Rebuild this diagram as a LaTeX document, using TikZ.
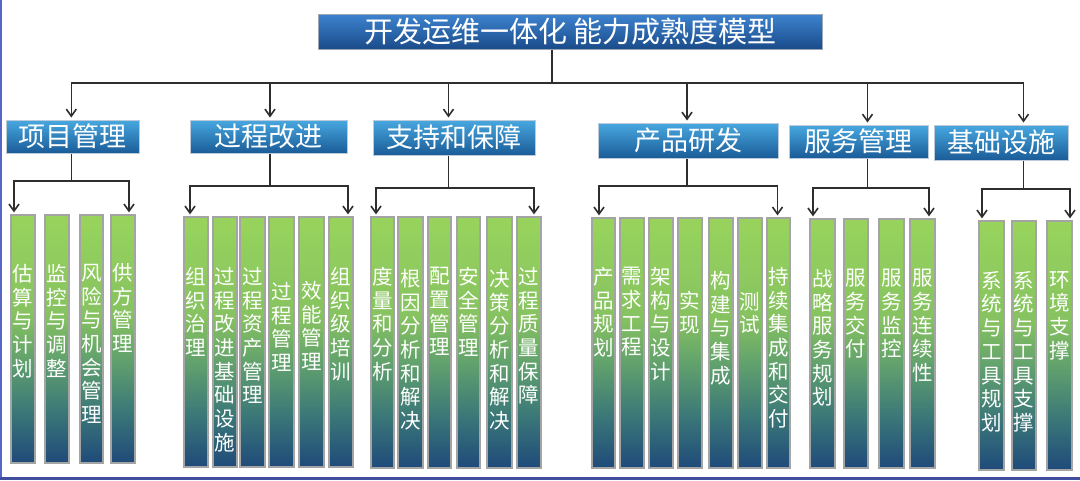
\documentclass[tikz,border=0pt]{standalone}
\usepackage{fontspec}
\newfontfamily\cjk{Noto Sans CJK SC}
\usetikzlibrary{arrows.meta}
\definecolor{edgeL}{HTML}{5566C8}
\definecolor{edgeB}{HTML}{414D9E}
\definecolor{connC}{HTML}{2E2E2E}
\definecolor{bar0}{HTML}{1F4A7A}
\definecolor{bar1}{HTML}{3A7678}
\definecolor{bar2}{HTML}{5E9E6E}
\definecolor{bar3}{HTML}{86C260}
\definecolor{bar4}{HTML}{98D45C}
\definecolor{barB}{HTML}{A4A4A4}
\definecolor{catT}{HTML}{48A8E0}
\definecolor{catM}{HTML}{2B88CA}
\definecolor{catB}{HTML}{1A5C98}
\definecolor{catD}{HTML}{BCCADA}
\definecolor{titT}{HTML}{3C82CE}
\definecolor{titM}{HTML}{2566B0}
\definecolor{titB}{HTML}{1A4B8A}
\definecolor{titD}{HTML}{9AA8B8}
\pgfdeclareverticalshading{barshade}{100bp}{color(0bp)=(bar0); color(25bp)=(bar0); color(35bp)=(bar1); color(45bp)=(bar2); color(55bp)=(bar3); color(75bp)=(bar4); color(100bp)=(bar4)}
\tikzset{
  conn/.style={draw=connC, line width=1.6pt},
  arr/.style={conn, -{Straight Barb[length=7pt,width=10pt]}, shorten >=2pt},
  titlestyle/.style={draw=titD, line width=1pt, top color=titT, middle color=titM, bottom color=titB, inner sep=0pt, text=white, font=\cjk\fontsize{29}{34}\selectfont},
  catstyle/.style={draw=catD, line width=1pt, top color=catT, middle color=catM, bottom color=catB, inner sep=0pt, text=white, font=\cjk\fontsize{27}{32}\selectfont},
  barstyle/.style={draw=barB, line width=1.2pt, shade, shading=barshade, inner sep=0pt},
  bartext/.style={anchor=north, inner sep=0pt, align=center, text=white, font=\cjk\fontsize{20.5}{23.7}\selectfont}
}
% name, x1, x2, y1, y2, text
\newcommand\mkcat[6]{\node[catstyle, minimum width={(#3-#2)*1pt}, minimum height={(#5-#4)*1pt}] (#1) at ({(#2+#3)/2},{(#4+#5)/2}) {#6};}
% name, x1, x2, top, bottom, text top, text
\newcommand\mkbar[7]{%
  \node[barstyle, minimum width={(#3-#2)*1pt}, minimum height={(#5-#4)*1pt}] (#1) at ({(#2+#3)/2},{(#4+#5)/2}) {};
  \node[bartext] (#1t) at ({(#2+#3)/2},{#6-1}) {#7};}
\begin{document}
\begin{tikzpicture}[x=1pt,y=-1pt]
\useasboundingbox (0,0) rectangle (1080,480);
\fill[white] (0,0) rectangle (1080,480);
\fill[edgeL] (0,0) rectangle (1.6,480);
\fill[edgeB] (0,476.5) rectangle (1080,480);

% title
\node[titlestyle, minimum width=503.5pt, minimum height=34.5pt] (title) at (570.25,31.75) {开发运维一体化 能力成熟度模型};

% categories
\mkcat{c1}{6}{139.5}{120}{153}{项目管理}
\mkcat{c2}{190}{347}{120}{153}{过程改进}
\mkcat{c3}{373}{535}{120}{155}{支持和保障}
\mkcat{c4}{598.5}{778.5}{123}{158}{产品研发}
\mkcat{c5}{789}{928}{125}{158}{服务管理}
\mkcat{c6}{934}{1068.5}{125}{160}{基础设施}

% bars group 1
\mkbar{b11}{11}{35}{215}{463}{265}{估\\算\\与\\计\\划}
\mkbar{b12}{45}{69}{215}{463}{265}{监\\控\\与\\调\\整}
\mkbar{b13}{80}{103}{215}{463}{265}{风\\险\\与\\机\\会\\管\\理}
\mkbar{b14}{111}{135}{215}{463}{264}{供\\方\\管\\理}
% group 2
\mkbar{b21}{184}{208}{217}{467}{268}{组\\织\\治\\理}
\mkbar{b22}{213}{237}{217}{467}{268}{过\\程\\改\\进\\基\\础\\设\\施}
\mkbar{b23}{240}{265}{217}{467}{268}{过\\程\\资\\产\\管\\理}
\mkbar{b24}{269}{294}{217}{467}{283}{过\\程\\管\\理}
\mkbar{b25}{299}{324}{217}{467}{282}{效\\能\\管\\理}
\mkbar{b26}{329}{353}{217}{467}{268}{组\\织\\级\\培\\训}
% group 3
\mkbar{b31}{371}{394}{217}{468}{268}{度\\量\\和\\分\\析}
\mkbar{b32}{398}{423}{217}{468}{270}{根\\因\\分\\析\\和\\解\\决}
\mkbar{b33}{428}{451}{217}{468}{268}{配\\置\\管\\理}
\mkbar{b34}{457}{480}{217}{468}{268}{安\\全\\管\\理}
\mkbar{b35}{487}{512}{217}{468}{270}{决\\策\\分\\析\\和\\解\\决}
\mkbar{b36}{517}{541}{217}{468}{268}{过\\程\\质\\量\\保\\障}
% group 4
\mkbar{b41}{592}{615}{218}{468}{268}{产\\品\\规\\划}
\mkbar{b42}{620}{644}{218}{468}{268}{需\\求\\工\\程}
\mkbar{b43}{649}{673}{218}{468}{268}{架\\构\\与\\设\\计}
\mkbar{b44}{678}{702}{218}{468}{292}{实\\现}
\mkbar{b45}{709}{733}{218}{468}{272}{构\\建\\与\\集\\成}
\mkbar{b46}{738}{762}{218}{468}{293}{测\\试}
\mkbar{b47}{767}{790}{218}{468}{268}{持\\续\\集\\成\\和\\交\\付}
% group 5
\mkbar{b51}{810}{835}{219}{468}{270}{战\\略\\服\\务\\规\\划}
\mkbar{b52}{844}{868}{219}{468}{270}{服\\务\\交\\付}
\mkbar{b53}{879}{904}{219}{468}{270}{服\\务\\监\\控}
\mkbar{b54}{910}{935}{219}{468}{270}{服\\务\\连\\续\\性}
% group 6
\mkbar{b61}{979}{1004}{221}{470}{272}{系\\统\\与\\工\\具\\规\\划}
\mkbar{b62}{1012}{1036}{221}{470}{272}{系\\统\\与\\工\\具\\支\\撑}
\mkbar{b63}{1047}{1072}{221}{470}{272}{环\\境\\支\\撑}

% main bus
\coordinate (bus) at (552,83);
\coordinate (a1) at (71.3,83);
\coordinate (a2) at (270,83);
\coordinate (a3) at (448.5,83);
\coordinate (a4) at (687,83);
\coordinate (a5) at (867.5,83);
\coordinate (a6) at (1023.5,83);
\draw[conn] (title.south -| bus) -- (bus);
\draw[conn, line cap=rect] (a1) -- (a6);
\foreach \i in {1,...,6}{\draw[arr] (a\i) -- (a\i |- c\i.north);}

% sub buses
\coordinate (s1) at (71.3,181);  \coordinate (l1) at (14,181);  \coordinate (r1) at (129,181);
\coordinate (s2) at (270,186);   \coordinate (l2) at (190,186); \coordinate (r2) at (348,186);
\coordinate (s3) at (448.5,188); \coordinate (l3) at (376,188); \coordinate (r3) at (534,188);
\coordinate (s4) at (687,186);   \coordinate (l4) at (599,186); \coordinate (r4) at (777.5,186);
\coordinate (s5) at (867.5,188); \coordinate (l5) at (813,188); \coordinate (r5) at (929,188);
\coordinate (s6) at (1023.5,189);\coordinate (l6) at (982,189); \coordinate (r6) at (1070,189);
\foreach \i/\f/\l in {1/b11/b14, 2/b21/b26, 3/b31/b36, 4/b41/b47, 5/b51/b54, 6/b61/b63}{
  \draw[conn] (c\i.south -| s\i) -- (s\i);
  \draw[conn, line cap=rect] (l\i) -- (r\i);
  \draw[arr] (l\i) -- (l\i |- \f.north);
  \draw[arr] (r\i) -- (r\i |- \l.north);
}
\end{tikzpicture}
\end{document}
